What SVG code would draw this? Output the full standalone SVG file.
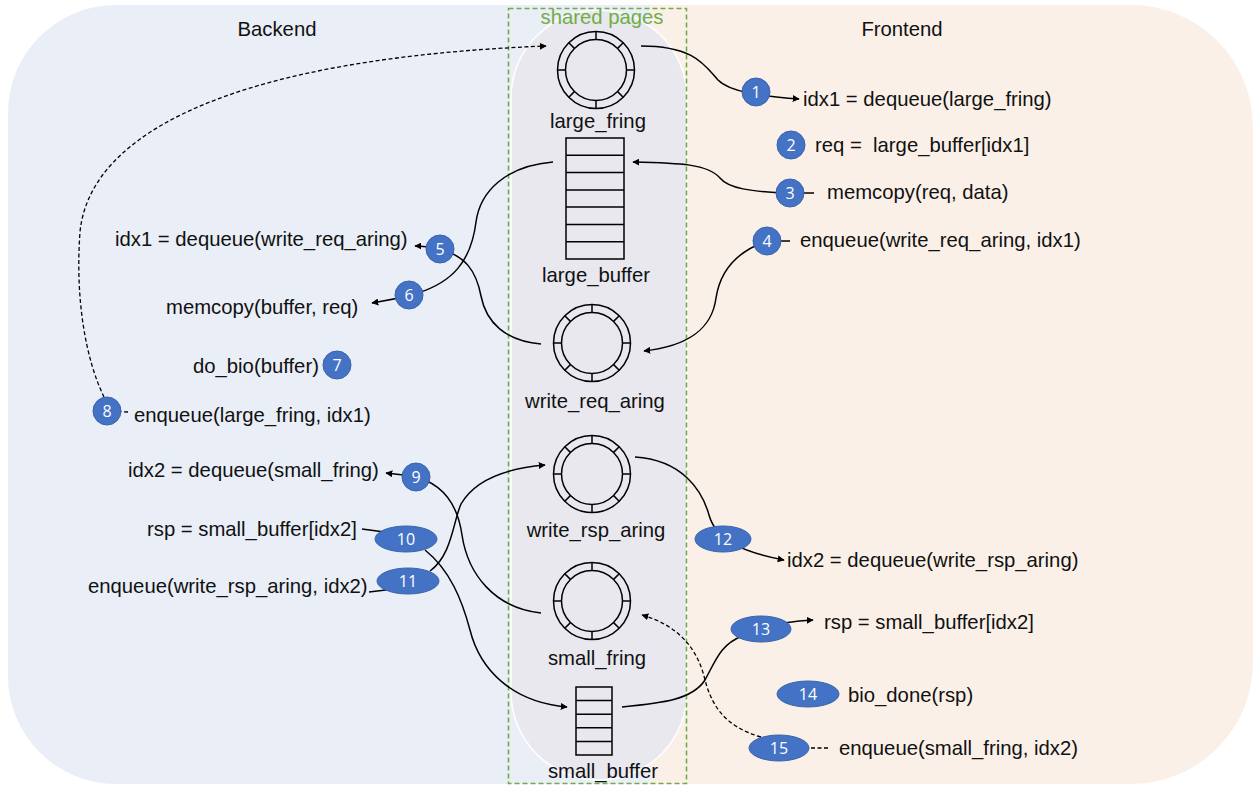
<svg xmlns="http://www.w3.org/2000/svg" xmlns:xlink="http://www.w3.org/1999/xlink" width="1253" height="785" viewBox="0 0 1253 785">
  <style>
    .t { font-family: "Liberation Sans", Arial, sans-serif; font-size: 20.3px; fill: #111; white-space: pre; }
    .mid { text-anchor: middle; }
    .num { font-family: "Open Sans", "Liberation Sans", sans-serif; font-size: 16px; fill: #fff; text-anchor: middle; dominant-baseline: central; }
    .badge { fill: #4472C4; stroke: #3A63AD; stroke-width: 1; }
    .ln { fill: none; stroke: #000; stroke-width: 1.5; }
    .dash { fill: none; stroke: #000; stroke-width: 1.3; stroke-dasharray: 4 2.5; }
    .box { fill: none; stroke: #000; stroke-width: 1.5; }
  </style>
  <defs>
    <marker id="arrow" viewBox="0 0 10 10" refX="9" refY="5" markerWidth="7" markerHeight="7" markerUnits="userSpaceOnUse" orient="auto">
      <path d="M0,0 L10,5 L0,10 z" fill="#000"/>
    </marker>
    <!-- ring buffer glyph: two concentric circles with eight slot dividers -->
    <g id="ring" fill="none" stroke="#000" stroke-width="1.5">
      <circle r="38.5"/>
      <circle r="30.5"/>
      <path d="M0,-30.5V-38.5 M0,30.5V38.5 M-30.5,0H-38.5 M30.5,0H38.5 M21.6,-21.6L27.2,-27.2 M-21.6,-21.6L-27.2,-27.2 M21.6,21.6L27.2,27.2 M-21.6,21.6L-27.2,27.2"/>
    </g>
  </defs>

  <!-- domain backgrounds -->
  <g id="backgrounds">
    <path d="M116,5 H650 V784 H116 A108,108 0 0 1 8,676 V113 A108,108 0 0 1 116,5 Z" fill="#E9EEF7"/>
    <path d="M650,5 H1131 A122,122 0 0 1 1253,127 V662 A122,122 0 0 1 1131,784 H650 Z" fill="#FBF0E8"/>
    <rect x="511" y="10" width="176" height="770" rx="88" ry="88" fill="#E8E8EE" stroke="#fff" stroke-width="1.5"/>
  </g>

  <!-- shared pages region -->
  <g id="shared_pages">
    <rect x="508.5" y="8.5" width="178" height="775" fill="none" stroke="#70AD47" stroke-width="1.6" stroke-dasharray="5 3"/>
    <text class="t mid" x="602" y="24" style="fill:#70AD47">shared pages</text>
  </g>

  <g id="titles">
    <text class="t mid" x="277" y="36">Backend</text>
    <text class="t mid" x="902" y="36">Frontend</text>
  </g>

  <!-- shared data structures -->
  <g id="large_fring">
    <use xlink:href="#ring" x="596" y="70"/>
    <text class="t mid" x="598" y="128">large_fring</text>
  </g>
  <g id="large_buffer">
    <rect class="box" x="566" y="138" width="58" height="121"/>
    <path class="box" d="M566,155.3H624 M566,172.6H624 M566,189.9H624 M566,207.1H624 M566,224.4H624 M566,241.7H624"/>
    <text class="t mid" x="596" y="282">large_buffer</text>
  </g>
  <g id="write_req_aring">
    <use xlink:href="#ring" x="592" y="343"/>
    <text class="t mid" x="595" y="408">write_req_aring</text>
  </g>
  <g id="write_rsp_aring">
    <use xlink:href="#ring" x="592" y="474"/>
    <text class="t mid" x="596" y="537">write_rsp_aring</text>
  </g>
  <g id="small_fring">
    <use xlink:href="#ring" x="592" y="601"/>
    <text class="t mid" x="597" y="665">small_fring</text>
  </g>
  <g id="small_buffer">
    <rect class="box" x="576" y="687" width="36" height="68"/>
    <path class="box" d="M576,700.6H612 M576,714.2H612 M576,727.8H612 M576,741.4H612"/>
    <text class="t mid" x="603" y="778">small_buffer</text>
  </g>

  <!-- connectors -->
  <g id="connectors">
    <path class="ln" d="M641,46 C695,46 705,66 718,80 C730,92 760,96 799,99" marker-end="url(#arrow)"/>
    <path class="ln" d="M814,193 L790,193 C750,192 728,188 720,178 C708,164 680,163 633,162" marker-end="url(#arrow)"/>
    <path class="ln" d="M790,241 L767,241 C735,252 720,272 716,298 C712,328 690,346 644,351" marker-end="url(#arrow)"/>
    <path class="ln" d="M553,162 C505,166 480,192 476,222 C471,262 452,282 418,293 C400,298 385,301 372,303" marker-end="url(#arrow)"/>
    <path class="ln" d="M541,344 C505,341 486,322 481,296 C476,270 465,256 440,249 C430,247 424,246 415,246" marker-end="url(#arrow)"/>
    <path class="dash" d="M128,412 L108,411 M104,397 C86,360 75,300 80,232 C90,130 240,58 546,46" marker-end="url(#arrow)"/>
    <path class="ln" d="M541,613 C495,608 468,575 462,535 C457,500 440,482 412,476 L386,473" marker-end="url(#arrow)"/>
    <path class="ln" d="M362,529 L392,533"/>
    <path class="ln" d="M369,592 L394,589"/>
    <path class="ln" d="M430,571 C452,555 453,522 461,504 C476,478 510,468 545,465" marker-end="url(#arrow)"/>
    <path class="ln" d="M425,550 C450,570 462,600 470,630 C480,670 512,702 567,707" marker-end="url(#arrow)"/>
    <path class="ln" d="M635,457 C682,460 702,490 709,515 C716,540 742,552 784,560" marker-end="url(#arrow)"/>
    <path class="ln" d="M622,707 C662,703 692,700 705,680 C716,660 720,645 742,636 C765,625 790,621 813,620" marker-end="url(#arrow)"/>
    <path class="dash" d="M828,748 L808,748 M761,737 C722,726 711,702 705,680 C698,650 680,626 642,615" marker-end="url(#arrow)"/>
  </g>

  <!-- numbered steps -->
  <g id="step1"><circle class="badge" cx="756" cy="92" r="14"/><text class="num" x="756" y="92">1</text></g>
  <g id="step2"><circle class="badge" cx="791" cy="145" r="14"/><text class="num" x="791" y="145">2</text></g>
  <g id="step3"><circle class="badge" cx="790" cy="193" r="14"/><text class="num" x="790" y="193">3</text></g>
  <g id="step4"><circle class="badge" cx="767" cy="241" r="14"/><text class="num" x="767" y="241">4</text></g>
  <g id="step5"><circle class="badge" cx="440" cy="249" r="14"/><text class="num" x="440" y="249">5</text></g>
  <g id="step6"><circle class="badge" cx="409" cy="295" r="14"/><text class="num" x="409" y="295">6</text></g>
  <g id="step7"><circle class="badge" cx="337" cy="365" r="14"/><text class="num" x="337" y="365">7</text></g>
  <g id="step8"><circle class="badge" cx="107" cy="411" r="14"/><text class="num" x="107" y="411">8</text></g>
  <g id="step9"><circle class="badge" cx="416" cy="477" r="14"/><text class="num" x="416" y="477">9</text></g>
  <g id="step10"><ellipse class="badge" cx="406" cy="539" rx="31" ry="13"/><text class="num" x="406" y="539">10</text></g>
  <g id="step11"><ellipse class="badge" cx="408" cy="581" rx="31" ry="13"/><text class="num" x="408" y="581">11</text></g>
  <g id="step12"><ellipse class="badge" cx="723" cy="539" rx="28" ry="13"/><text class="num" x="723" y="539">12</text></g>
  <g id="step13"><ellipse class="badge" cx="761" cy="629" rx="30" ry="13"/><text class="num" x="761" y="629">13</text></g>
  <g id="step14"><ellipse class="badge" cx="808" cy="694" rx="31" ry="13"/><text class="num" x="808" y="694">14</text></g>
  <g id="step15"><ellipse class="badge" cx="779" cy="748" rx="30" ry="13"/><text class="num" x="779" y="748">15</text></g>

  <!-- operation labels -->
  <g id="frontend_ops">
    <text class="t" x="803" y="106">idx1 = dequeue(large_fring)</text>
    <text class="t" x="815" y="152">req =  large_buffer[idx1]</text>
    <text class="t" x="827" y="199">memcopy(req, data)</text>
    <text class="t" x="800" y="247">enqueue(write_req_aring, idx1)</text>
    <text class="t" x="787" y="567">idx2 = dequeue(write_rsp_aring)</text>
    <text class="t" x="824" y="629">rsp = small_buffer[idx2]</text>
    <text class="t" x="848" y="702">bio_done(rsp)</text>
    <text class="t" x="839" y="755">enqueue(small_fring, idx2)</text>
  </g>
  <g id="backend_ops">
    <text class="t" x="115" y="246">idx1 = dequeue(write_req_aring)</text>
    <text class="t" x="166" y="314">memcopy(buffer, req)</text>
    <text class="t" x="193" y="373">do_bio(buffer)</text>
    <text class="t" x="134" y="422">enqueue(large_fring, idx1)</text>
    <text class="t" x="128" y="477">idx2 = dequeue(small_fring)</text>
    <text class="t" x="147" y="536">rsp = small_buffer[idx2]</text>
    <text class="t" x="88" y="593">enqueue(write_rsp_aring, idx2)</text>
  </g>
</svg>
